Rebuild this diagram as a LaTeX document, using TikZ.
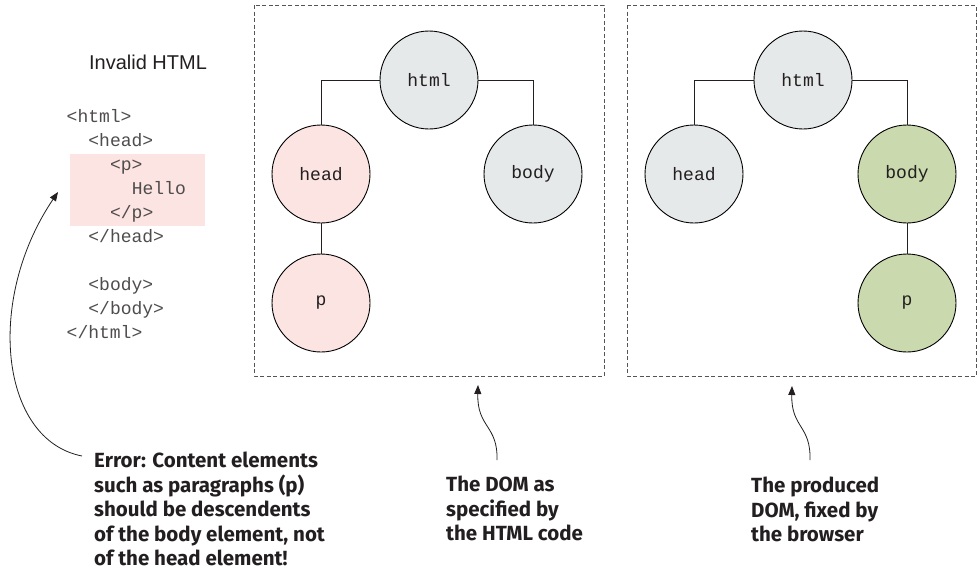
\documentclass[tikz,border=0pt]{standalone}
\usepackage{fontspec}
\setmainfont{Liberation Sans}
\setmonofont{Liberation Mono}
\newfontfamily\notefont{Fira Sans}
\usepackage{xcolor}
\usepackage{tikz}
\usetikzlibrary{arrows.meta}

\definecolor{nodegray}{HTML}{E6E9EA}
\definecolor{nodepink}{HTML}{FCE4E2}
\definecolor{nodegreen}{HTML}{CAD9AE}
\definecolor{boxgray}{HTML}{555555}
\definecolor{textdark}{HTML}{231F20}

\tikzset{
  domnode/.style={circle, draw=black, line width=0.9pt, minimum size=98pt, inner sep=0pt,
    font=\ttfamily\fontsize{18}{20}\selectfont, text=textdark},
  codeline/.style={anchor=base west, inner sep=0pt,
    font=\ttfamily\fontsize{18}{20}\selectfont, text=textdark!80},
  domframe/.style={draw=boxgray, dash pattern=on 4pt off 2.5pt, line width=0.9pt},
  note/.style={anchor=north west, align=left, inner sep=0pt,
    font=\notefont\bfseries\fontsize{20.5}{24.5}\selectfont, text=textdark},
  branch/.style={line width=0.9pt, draw=textdark},
  pointer/.style={line width=0.8pt, draw=textdark, -{Triangle[length=9pt,width=7pt]}},
}

\begin{document}
\begin{tikzpicture}[x=1pt,y=-1pt]
    \useasboundingbox (0,0) rectangle (977,570);

    % Cadres en pointillés
    \draw[domframe] (254,5) rectangle (604,376);
    \draw[domframe] (627,5) rectangle (976,376);

    % Code HTML invalide
    \node[font=\fontsize{20}{24}\selectfont, text=textdark] (title) at (148,62) {Invalid HTML};
    \fill[nodepink] (70,154) rectangle (205,226);
    \node[codeline] (c1) at (66.5,122) {<html>};
    \node[codeline] (c2) at (88.2,146) {<head>};
    \node[codeline] (c3) at (109.9,170) {<p>};
    \node[codeline] (c4) at (131.6,194) {Hello};
    \node[codeline] (c5) at (109.9,218) {</p>};
    \node[codeline] (c6) at (88.2,242) {</head>};
    \node[codeline] (c7) at (88.2,290) {<body>};
    \node[codeline] (c8) at (88.2,314) {</body>};
    \node[codeline] (c9) at (66.5,338) {</html>};

    % DOM écrit
    \node[domnode, fill=nodegray] (htmlA) at (429,80) {html};
    \node[domnode, fill=nodepink] (headA) at (321,174) {head};
    \node[domnode, fill=nodegray] (bodyA) at (533,174) {body};
    \node[domnode, fill=nodepink] (pA) at (321,303) {p};
    \draw[branch] (htmlA.west) -| (headA.north);
    \draw[branch] (htmlA.east) -| (bodyA.north);
    \draw[branch] (headA.south) -- (pA.north);

    % DOM corrigé
    \node[domnode, fill=nodegray] (htmlB) at (803,80) {html};
    \node[domnode, fill=nodegray] (headB) at (694,174) {head};
    \node[domnode, fill=nodegreen] (bodyB) at (907,174) {body};
    \node[domnode, fill=nodegreen] (pB) at (907,303) {p};
    \draw[branch] (htmlB.west) -| (headB.north);
    \draw[branch] (htmlB.east) -| (bodyB.north);
    \draw[branch] (bodyB.south) -- (pB.north);

    % Légendes
    \node[note] (errnote) at (94,452) {Error: Content elements\\such as paragraphs (p)\\should be descendents\\of the body element, not\\of the head element!};
    \node[note] (specnote) at (446,476) {The DOM as\\specified by\\the HTML code};
    \node[note] (fixnote) at (751,477) {The produced\\DOM, fixed by\\the browser};

    % Flèches
    \coordinate (errtail) at ([shift={(-12,4)}]errnote.north west);
    \coordinate (errtip) at (58,192);
    \coordinate (spectail) at ([shift={(51,-16)}]specnote.north west);
    \coordinate (spectip) at (478,385);
    \coordinate (fixtail) at ([shift={(59,-17)}]fixnote.north west);
    \coordinate (fixtip) at (792,386);
    \draw[pointer] (errtail) .. controls (0,440) and (-15,300) .. (errtip);
    \draw[pointer] (spectail) .. controls (498,425) and (477,428) .. (spectip);
    \draw[pointer] (fixtail) .. controls (811,425) and (791,428) .. (fixtip);

\end{tikzpicture}
\end{document}
